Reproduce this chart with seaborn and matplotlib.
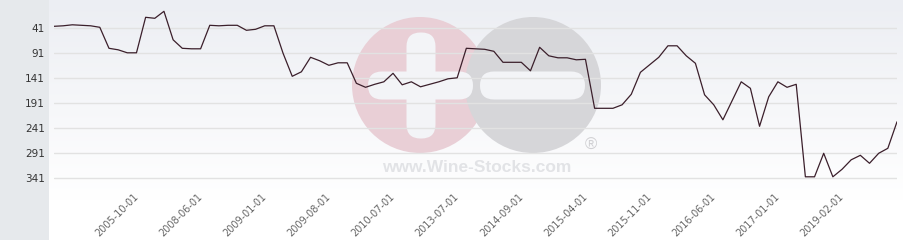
import numpy as np
import pandas as pd
import matplotlib
matplotlib.use("Agg")
import matplotlib.pyplot as plt
from matplotlib.colors import LinearSegmentedColormap
from matplotlib.patches import Circle, FancyBboxPatch, Rectangle
import seaborn as sns

# ---- data (rank values) ----
values = [37, 36, 34, 35, 36, 39, 81, 84, 90, 90,
          19, 21, 7, 64, 81, 82, 82, 35, 36, 35,
          35, 45, 43, 36, 36, 91, 137, 128, 99, 106,
          115, 110, 110, 151, 159, 153, 148, 131, 154, 148,
          158, 153, 148, 142, 140, 81, 82, 83, 87, 109,
          109, 109, 126, 79, 96, 100, 100, 104, 103, 201,
          201, 201, 194, 173, 129, 114, 99, 76, 76, 96,
          111, 174, 194, 224, 186, 148, 161, 237, 178, 148,
          159, 153, 338, 338, 291, 338, 323, 304, 295, 311,
          291, 281, 228]
tick_labels = ["2005-10-01", "2008-06-01", "2009-01-01", "2009-08-01",
               "2010-07-01", "2013-07-01", "2014-09-01", "2015-04-01",
               "2015-11-01", "2016-06-01", "2017-01-01", "2019-02-01"]
y_ticks = [41, 91, 141, 191, 241, 291, 341]

df = pd.DataFrame({"idx": np.arange(len(values)), "value": values})
label_every = 7
first_label = 9
tick_pos = list(range(first_label, len(values), label_every))[:len(tick_labels)]

sns.set_theme(style="white")
plt.rcParams['font.family'] = ['DejaVu Sans']

W, H = 904, 240
fig = plt.figure(figsize=(W / 100, H / 100), dpi=100)

# ---- background layer (pixel coordinates) ----
bg = fig.add_axes([0, 0, 1, 1], zorder=0)
grad = np.linspace(0, 1, 256)[:, None]
cmap = LinearSegmentedColormap.from_list("bgg", ["#eceef3", "#ffffff"])
bg.imshow(grad, extent=(49, W, 200, 0), cmap=cmap, aspect='auto', interpolation='bilinear')
bg.add_patch(Rectangle((49, 200), W - 49, 40, color="#ffffff", lw=0))
bg.add_patch(Rectangle((0, 0), 49, H, color="#e6e9ec", lw=0))

# watermark
bg.add_patch(Circle((420, 85), 68, color="#e9cfd6", lw=0))
bg.add_patch(Circle((533, 85), 68, color="#d6d6d9", lw=0))
hole = "#f3f4f7"
bg.add_patch(FancyBboxPatch((368, 71.5), 105, 28, boxstyle="round,pad=0,rounding_size=14",
                            color=hole, lw=0))
bg.add_patch(FancyBboxPatch((406.5, 32.5), 29, 106, boxstyle="round,pad=0,rounding_size=14",
                            color=hole, lw=0))
bg.add_patch(FancyBboxPatch((480, 71.5), 105, 28, boxstyle="round,pad=0,rounding_size=14",
                            color=hole, lw=0))
bg.text(477, 167, "www.Wine-Stocks.com", ha="center", va="center", fontsize=12.5,
        fontweight="bold", color="#e2e3e6", family=["Liberation Sans", "DejaVu Sans"])
bg.text(591, 145, "\u00ae", ha="center", va="center", fontsize=12,
        color="#d0d0d3", family=["Liberation Sans", "DejaVu Sans"])
bg.set_xlim(0, W)
bg.set_ylim(H, 0)
bg.axis("off")

# ---- main chart ----
left_px, right_px, bottom_px = 54, 897, 185
ax = fig.add_axes([left_px / W, 1 - bottom_px / H, (right_px - left_px) / W, bottom_px / H],
                  zorder=1)
ax.patch.set_alpha(0)
sns.lineplot(data=df, x="idx", y="value", ax=ax, color="#3b1f2b", linewidth=0.9)

ax.set_xlim(0, len(values) - 1)
ax.set_ylim(354.4, -15.6)
ax.set_yticks(y_ticks)
ax.set_yticklabels([str(t) for t in y_ticks], fontsize=7.5, color="#333333")
ax.set_xticks(tick_pos)
ax.set_xticklabels(tick_labels, fontsize=7, color="#666666", rotation=45,
                   ha="right", va="center", rotation_mode="anchor")
ax.tick_params(axis="y", length=0, pad=6.5)
ax.tick_params(axis="x", length=0, pad=7.5)
ax.grid(axis="y", color="#e2e2e2", linewidth=1)
ax.grid(axis="x", visible=False)
ax.set_axisbelow(True)
for s in ax.spines.values():
    s.set_visible(False)
ax.set_xlabel("")
ax.set_ylabel("")

fig.savefig("out.png", dpi=100)
